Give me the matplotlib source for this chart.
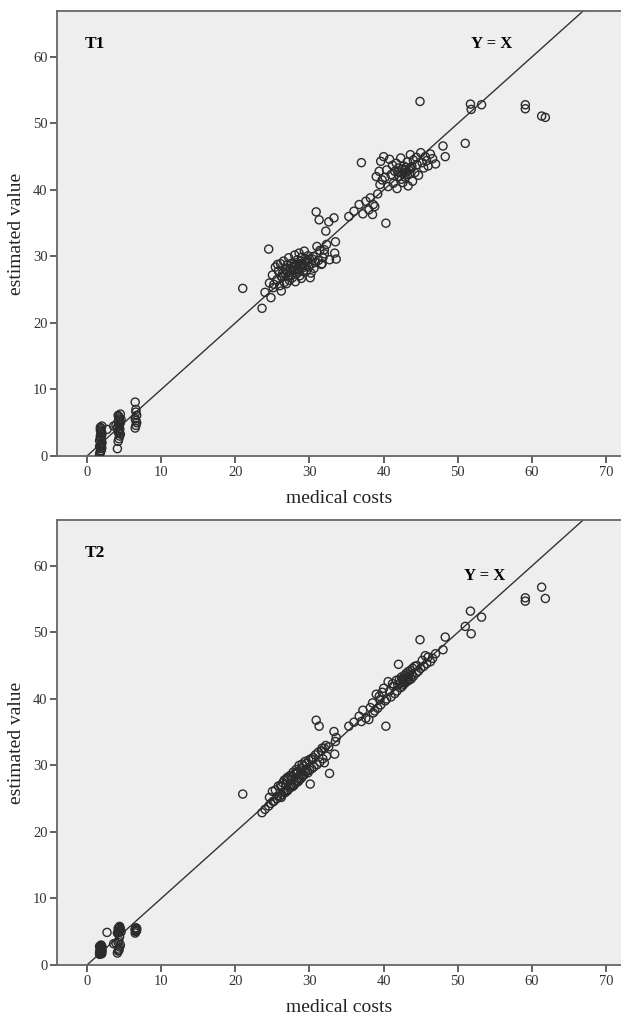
import matplotlib
matplotlib.use("Agg")
import matplotlib.pyplot as plt

# medical costs (shared x), and the estimated values from the two models
costs = [
    # ~1.9 group
    1.7, 1.8, 1.9, 2.0, 1.8, 1.9, 2.0, 1.7, 1.9, 1.8, 2.0, 1.9, 1.8, 1.9, 2.0, 1.8,
    1.9, 1.7, 2.0, 1.9, 1.8, 1.9, 2.0, 1.8,
    2.7, 3.6,
    # ~4.3 group
    4.1, 4.2, 4.3, 4.4, 4.5, 4.2, 4.3, 4.4, 4.1, 4.3, 4.4, 4.5, 4.2, 4.3, 4.4, 4.3,
    4.2, 4.5, 4.4, 4.3, 3.9, 4.6,
    # ~6.6 group
    6.5, 6.6, 6.7, 6.6, 6.5, 6.7, 6.6, 6.6, 6.5,
    # middle cluster
    25.0, 25.2, 25.4, 25.6, 25.8, 26.0, 26.1, 26.3, 26.4, 26.5, 26.6, 26.7, 26.8, 26.9,
    27.0, 27.1, 27.2, 27.3, 27.4, 27.5, 27.6, 27.7, 27.8, 27.9, 28.0, 28.1, 28.2, 28.3,
    28.4, 28.5, 28.6, 28.7, 28.8, 28.9, 29.0, 29.1, 29.2, 29.3, 29.4, 29.5, 29.6, 29.8,
    29.9, 30.0, 30.2, 30.3, 30.5, 30.6, 30.8, 31.0, 31.2, 31.4, 31.6, 31.8, 32.0, 32.3,
    28.6, 28.2, 27.9, 28.4, 29.0, 27.5, 27.0, 26.2, 25.7, 29.7, 30.4, 28.9, 26.9, 27.6,
    21.0, 23.6, 24.0, 24.5, 24.8, 25.1, 24.6, 30.9, 31.3, 32.6, 33.3, 33.5, 33.4, 33.6,
    32.7, 32.2, 31.7, 30.1, 26.2, 32.0,
    # upper cluster
    35.3, 36.0, 36.7, 37.0, 37.2, 37.6, 38.0, 38.2, 38.5, 38.8, 39.0, 39.2, 39.4, 39.6,
    39.8, 40.0, 40.3, 40.4, 40.6, 40.8, 41.0, 41.2, 41.3, 41.5, 41.7, 41.8, 42.0, 42.1,
    42.3, 42.4, 42.5, 42.6, 42.7, 42.8, 42.9, 43.0, 43.1, 43.2, 43.3, 43.4, 43.5, 43.6,
    43.7, 43.9, 44.0, 44.2, 44.4, 44.5, 44.7, 44.9, 45.0, 45.2, 45.4, 45.6, 45.8, 46.0,
    46.3, 46.6, 47.0, 42.2, 42.9, 43.2, 43.8, 42.6, 41.9, 40.2, 39.5, 38.6,
    # high costs
    48.0, 48.3, 51.0, 51.7, 51.8, 53.2, 59.1, 59.1, 61.3, 61.8,
]

est_t1 = [
    0.3, 0.7, 0.8, 1.2, 1.6, 1.7, 2.1, 2.3, 2.8, 3.0, 3.2, 3.7, 3.9, 4.1, 4.5, 0.5,
    1.1, 1.4, 1.9, 2.5, 2.6, 3.4, 3.5, 4.3,
    4.0, 4.5,
    1.1, 2.2, 2.6, 3.0, 3.3, 3.6, 3.8, 4.1, 4.3, 4.5, 4.8, 5.0, 5.2, 5.4, 5.7, 5.9,
    6.1, 6.3, 4.0, 3.5, 4.6, 5.5,
    4.2, 4.6, 5.0, 5.3, 5.6, 6.1, 6.6, 7.0, 8.1,
    27.2, 25.8, 28.4, 26.5, 27.8, 25.6, 28.9, 26.9, 27.5, 29.3, 26.1, 28.0, 27.3, 25.9,
    28.7, 27.0, 29.8, 26.4, 28.2, 27.6, 29.0, 26.8, 28.5, 27.9, 30.2, 26.2, 28.8, 27.4,
    29.5, 28.1, 30.5, 27.1, 28.9, 26.7, 29.9, 28.3, 27.7, 30.8, 28.6, 29.2, 27.9, 30.1,
    28.4, 29.6, 27.5, 28.9, 30.0, 28.2, 29.1, 31.5, 29.4, 30.9, 28.8, 29.8, 30.4, 31.8,
    28.0, 28.6, 28.3, 27.8, 28.7, 28.9, 27.7, 27.0, 28.8, 29.4, 29.6, 29.3, 28.2, 27.2,
    25.2, 22.2, 24.6, 31.1, 23.8, 25.3, 26.0, 36.7, 35.5, 35.2, 35.8, 32.2, 30.5, 29.6,
    29.5, 33.8, 28.9, 26.8, 24.8, 31.0,
    36.0, 36.8, 37.8, 44.1, 36.4, 38.3, 37.0, 38.8, 36.3, 37.5, 42.0, 39.4, 42.8, 44.3,
    41.5, 45.0, 35.0, 43.0, 40.5, 44.6, 42.3, 43.7, 41.0, 42.8, 44.0, 40.2, 43.3, 42.0,
    44.8, 41.6, 43.1, 42.5, 43.6, 42.9, 41.9, 43.4, 42.7, 44.2, 40.6, 43.0, 42.4, 45.3,
    43.2, 41.3, 44.5, 42.6, 44.9, 43.8, 42.2, 53.3, 45.6, 44.1, 43.3, 45.0, 44.4, 43.6,
    45.4, 44.7, 43.9, 42.6, 43.0, 42.3, 43.5, 41.1, 42.7, 41.9, 40.8, 37.8,
    46.6, 45.0, 47.0, 52.9, 52.1, 52.8, 52.8, 52.2, 51.1, 50.9,
]

est_t2 = [
    1.6, 1.7, 1.9, 2.0, 2.2, 2.4, 2.6, 2.8, 3.0, 1.8, 2.1, 2.5, 2.7, 2.9, 1.7, 2.3,
    2.0, 1.9, 2.4, 2.6, 2.2, 1.8, 2.8, 2.1,
    4.9, 3.2,
    1.8, 2.1, 2.4, 2.7, 3.0, 3.4, 3.7, 4.3, 4.8, 5.0, 5.2, 5.3, 5.5, 5.6, 5.8, 5.1,
    4.9, 5.4, 5.7, 2.2, 3.3, 5.0,
    4.8, 5.0, 5.2, 5.3, 5.4, 5.5, 5.6, 5.1, 5.3,
    26.1, 24.6, 26.3, 25.0, 26.9, 25.3, 27.0, 25.6, 27.4, 26.0, 27.8, 25.9, 27.2, 26.1,
    28.2, 26.3, 28.0, 26.6, 28.5, 26.9, 27.9, 26.8, 29.0, 27.1, 28.7, 27.3, 29.4, 27.5,
    28.9, 27.6, 30.0, 27.9, 29.3, 28.1, 30.2, 28.4, 29.9, 28.6, 30.6, 29.0, 30.3, 28.9,
    30.8, 29.3, 31.0, 29.5, 31.2, 29.8, 31.6, 30.1, 32.0, 30.5, 32.2, 31.0, 32.6, 31.4,
    28.0, 28.9, 27.0, 29.1, 28.5, 28.3, 26.2, 26.8, 25.4, 29.2, 30.9, 29.6, 27.9, 27.0,
    25.7, 22.9, 23.4, 23.9, 24.3, 24.6, 25.2, 36.8, 35.9, 32.8, 35.1, 33.6, 31.7, 34.2,
    28.8, 33.0, 32.6, 27.2, 25.2, 30.4,
    35.9, 36.5, 37.4, 36.6, 38.3, 37.1, 36.9, 38.7, 39.4, 38.2, 40.7, 38.6, 40.4, 39.1,
    41.0, 41.6, 35.9, 40.0, 42.6, 41.2, 40.3, 42.3, 41.9, 40.8, 42.8, 41.2, 45.2, 42.9,
    41.7, 43.3, 41.9, 43.0, 42.2, 43.5, 42.4, 43.8, 42.6, 43.3, 44.1, 42.8, 43.7, 44.3,
    43.0, 44.6, 43.4, 44.9, 43.9, 45.0, 44.2, 48.9, 44.6, 45.8, 44.9, 46.5, 45.3, 46.3,
    45.6, 46.1, 46.8, 42.4, 43.1, 42.9, 43.6, 42.6, 42.1, 39.7, 39.9, 37.9,
    47.4, 49.3, 50.9, 53.2, 49.8, 52.3, 55.2, 54.7, 56.8, 55.1,
]

panels = [("T1", est_t1, (54.6, 61.9)), ("T2", est_t2, (53.6, 58.5))]
x_ticks = [0, 10, 20, 30, 40, 50, 60, 70]
y_ticks = [0, 10, 20, 30, 40, 50, 60]

plt.rcParams["font.family"] = ["Liberation Serif", "DejaVu Serif"]

fig = plt.figure(figsize=(6.21, 10.16), dpi=100)
rects = [[0.0923, 0.5512, 0.9077, 0.4380], [0.0923, 0.0502, 0.9077, 0.4380]]

for rect, (tag, est, yx_pos) in zip(rects, panels):
    ax = fig.add_axes(rect)
    ax.set_facecolor("#eeeeee")
    ax.plot([0, 80], [0, 80], color="#333333", lw=1.0, zorder=2)
    ax.scatter(costs, est, s=34, facecolors="none", edgecolors="#2b2b2b",
               linewidths=1.0, zorder=3)
    ax.set_xlim(-4, 72)
    ax.set_ylim(0, 66.9)
    ax.set_xticks(x_ticks)
    ax.set_yticks(y_ticks)
    ax.tick_params(direction="out", length=5, width=1.3, color="#555555",
                   labelsize=10.5, labelcolor="#333333", pad=2)
    ax.spines["right"].set_visible(False)
    for side in ["left", "bottom", "top"]:
        ax.spines[side].set_color("#666666")
        ax.spines[side].set_linewidth(1.3)
    ax.text(-0.3, 61.9, tag, fontsize=12.5, fontweight="bold", va="center", ha="left")
    ax.text(yx_pos[0], yx_pos[1], "Y = X", fontsize=12, fontweight="bold",
            va="center", ha="center")
    ax.set_xlabel("medical costs", fontsize=14, labelpad=8, color="#222222")
    ax.set_ylabel("estimated value", fontsize=14, labelpad=6, color="#222222")

fig.savefig("out.png", dpi=100)
